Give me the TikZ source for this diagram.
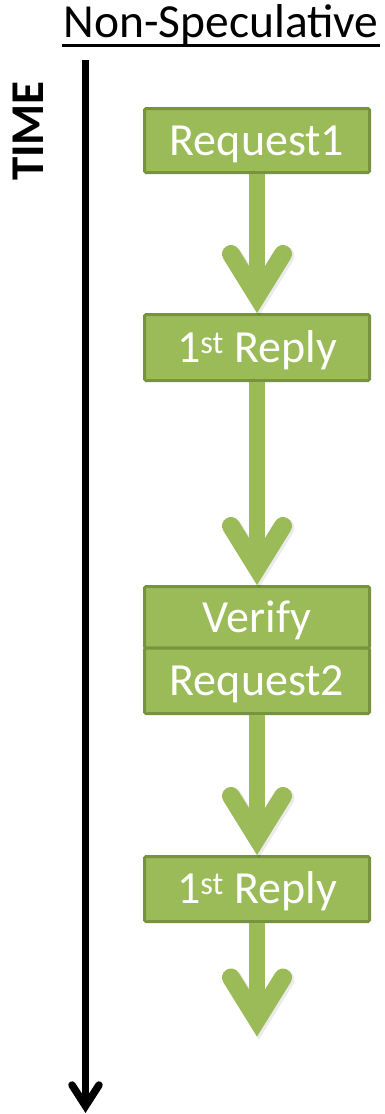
\documentclass[tikz,border=0pt]{standalone}
\usepackage{fontspec}
\setmainfont{Carlito}
\begin{document}
\begin{tikzpicture}[x=1pt,y=-1pt,
  boxfill/.style={fill=stepgreen,draw=stepedge,line width=3pt,rounded corners=1.5pt,
    minimum width=225pt,inner sep=0pt,text=white,
    font=\fontsize{46}{50}\selectfont,text height=29.5pt,text depth=0pt},
  shaft/.style={draw=stepgreen,line width=16pt,line cap=butt},
  chev/.style={draw=stepgreen,line width=18pt,line cap=round,line join=miter},
  shade/.style={draw=black,opacity=0.08,line width=19pt,line cap=round,line join=miter},
  axisline/.style={draw=black,line width=7.5pt,line cap=butt},
  axishead/.style={draw=black,line width=7.5pt,line cap=round,line join=miter}]
\definecolor{stepgreen}{HTML}{9BBB59}
\definecolor{stepedge}{HTML}{77933C}
\useasboundingbox (0,0) rectangle (384,1114);

% heading
\node[anchor=base,inner sep=0pt,font=\fontsize{47.5}{52}\selectfont] (title) at (221,37) {Non-Speculative};
\draw[line width=2.6pt] (62,45.5) -- (380,45.5);

% time axis
\node[rotate=90,inner sep=0pt,font=\fontsize{47}{52}\selectfont\bfseries,
      text height=30pt,text depth=0pt] (time) at (28.5,131) {TIME};
\coordinate (ttop) at (85.5,60);
\coordinate (tbot) at (85.5,1106);
\draw[axisline] (ttop) -- (tbot);
\draw[axishead] ([shift={(-13.5,-21)}]tbot) -- (tbot) -- ([shift={(13.5,-21)}]tbot);

% steps
\node[boxfill,minimum height=64pt] (req1) at (257,140.5) {Request1};
\node[boxfill,minimum height=66pt] (rep1) at (257,347.5) {1\textsuperscript{st} Reply};
\node[boxfill,minimum height=61.5pt] (ver) at (257,617.25) {Verify};
\node[boxfill,minimum height=65.5pt] (req2) at (257,680.75) {Request2};
\node[boxfill,minimum height=65pt] (rep2) at (257,889) {1\textsuperscript{st} Reply};
\coordinate (fin) at (257,1036.5);

% thick arrows between steps
\newcommand\flowarrow[2]{%
  \draw[shade] ([shift={(-24,-57)}]#2.north) -- ([shift={(2,-15)}]#2.north) -- ([shift={(28,-57)}]#2.north);
  \draw[shaft] (#1.south) -- ([shift={(0,-20)}]#2.north);
  \draw[chev] ([shift={(-26,-59)}]#2.north) -- ([shift={(0,-17)}]#2.north) -- ([shift={(26,-59)}]#2.north);
}
\flowarrow{req1}{rep1}
\flowarrow{rep1}{ver}
\flowarrow{req2}{rep2}
\flowarrow{rep2}{fin}
\end{tikzpicture}
\end{document}
